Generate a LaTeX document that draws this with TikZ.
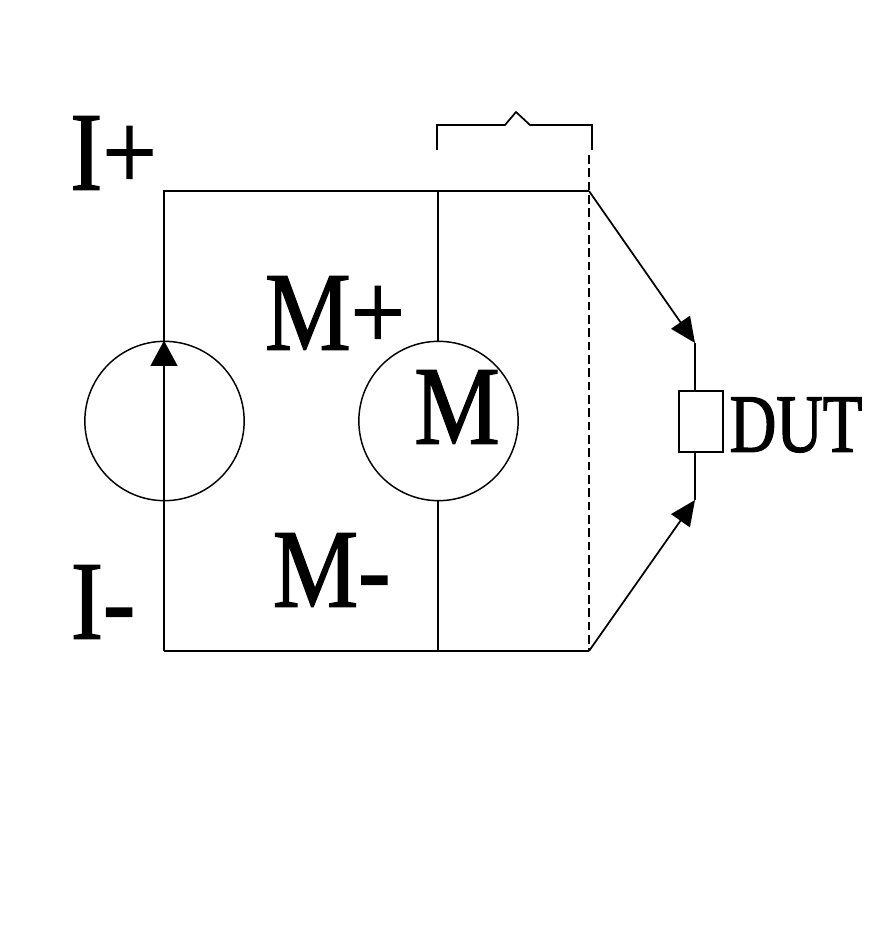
\documentclass[tikz,border=0pt]{standalone}
\usepackage{fontspec}
\setmainfont{Liberation Serif}
\newfontfamily\labfont[FakeBold=1.2,FakeStretch=0.86]{Liberation Serif}
\newfontfamily\dutfont[FakeBold=1.5,FakeStretch=0.78]{Liberation Serif}
\usetikzlibrary{calc,arrows.meta,positioning}
\tikzset{
  wire/.style={line width=1.8pt},
  thinwire/.style={line width=1.3pt},
  meter/.style={circle,draw,line width=1.1pt,minimum size=119.5pt,inner sep=0pt},
  tipwire/.style={thinwire,-{Triangle[length=19pt,width=17pt]}},
  dashwire/.style={line width=1.8pt,dash pattern=on 6.5pt off 3.5pt},
  lab/.style={inner sep=0pt,font=\labfont\fontsize{84}{84}\selectfont}
}
\begin{document}
\begin{tikzpicture}[x=0.75pt,y=-0.75pt]
  \useasboundingbox (0,0) rectangle (873,930);
  % corners of the loop
  \coordinate (tl) at (164,191);
  \coordinate (tr) at (589,191);
  \coordinate (bl) at (164,651);
  \coordinate (br) at (589,651);
  \coordinate (mt) at (438,191);
  \coordinate (mb) at (438,651);
  \coordinate (dashtop) at (589,155);
  % sources
  \node[meter] (src) at (164.5,421) {};
  \node[meter] (vm) at (438.5,421) {};
  \draw[wire] (bl) -- (tl) -- (tr);
  \draw[wire] (bl) -- (br);
  \draw[wire] (mt) -- (vm.north -| mt);
  \draw[wire] (vm.south -| mb) -- (mb);
  \draw[wire,-{Triangle[length=19pt,width=20pt]}] (src.south -| tl) -- (src.north -| tl);
  \draw[dashwire] (dashtop) -- (br);
  % device
  \node[draw,line width=1.5pt,minimum width=33pt,minimum height=45.5pt,inner sep=0pt] (dut) at (701,421.5) {};
  \coordinate (dutup) at (695,343);
  \coordinate (dutdn) at (695,500);
  \draw[thinwire] (dutup) -- (dut.north -| dutup);
  \draw[thinwire] (dut.south -| dutdn) -- (dutdn);
  \draw[tipwire] (tr) -- (dutup);
  \draw[tipwire] (br) -- (dutdn);
  % bracket
  \coordinate (ba) at (437,150);
  \coordinate (bb) at (437,125);
  \coordinate (bc) at (505,125);
  \coordinate (bd) at (516,112);
  \coordinate (be) at (530,125);
  \coordinate (bf) at (592,125);
  \coordinate (bg) at (592,150);
  \draw[thinwire] (ba) -- (bb) -- (bc) -- (bd) -- (be) -- (bf) -- (bg);
  % labels
  \node[lab] (iplus) at (113.5,153) {I+};
  \node[lab] (iminus) at (103,602) {I-};
  \node[lab] (mplus) at (335,313) {M+};
  \node[lab] (mminus) at (331.5,570) {M-};
  \node[lab] (mlab) at (457,407) {M};
  \node[inner sep=0pt,font=\dutfont\fontsize{62}{62}\selectfont] (dutlab) at (796,425) {DUT};
\end{tikzpicture}
\end{document}
